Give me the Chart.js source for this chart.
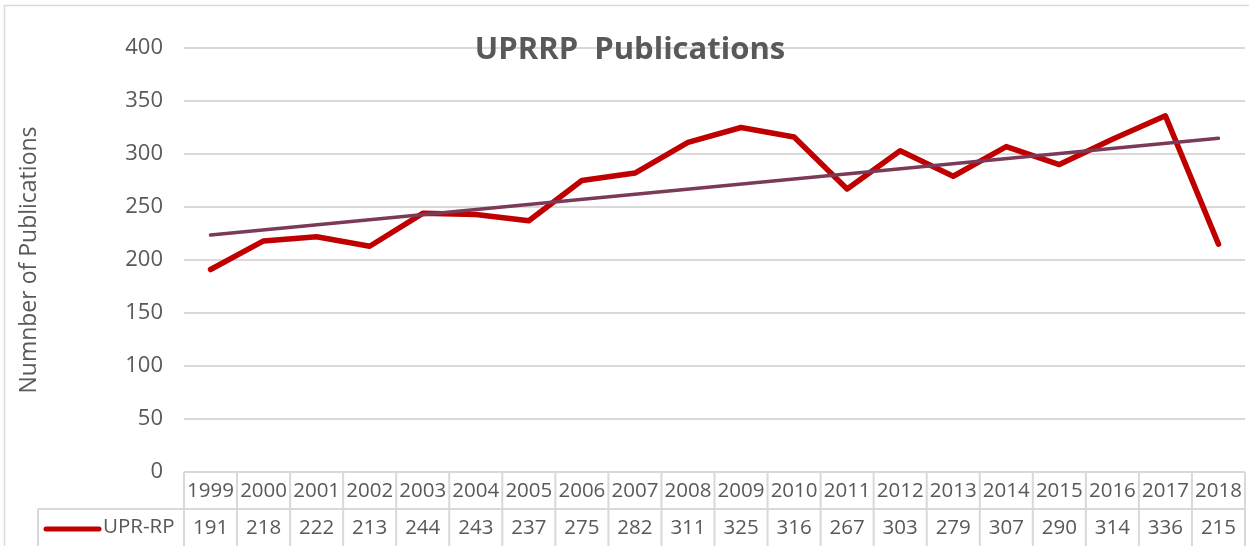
<!DOCTYPE html>
<html>
<head>
<meta charset="utf-8">
<script src="https://cdn.jsdelivr.net/npm/chart.js@4.4.1/dist/chart.umd.min.js"></script>
<style>
    html, body { margin: 0; padding: 0; background: #fff; }
    #wrap { width: 1249px; height: 546px; }
</style>
</head>
<body>
<div id="wrap"><canvas id="chart" width="1249" height="546"></canvas></div>
<script>
// Data
const years = ['1999', '2000', '2001', '2002', '2003', '2004', '2005', '2006', '2007', '2008',
               '2009', '2010', '2011', '2012', '2013', '2014', '2015', '2016', '2017', '2018'];
const publications = [191, 218, 222, 213, 244, 243, 237, 275, 282, 311,
                      325, 316, 267, 303, 279, 307, 290, 314, 336, 215];
// Linear trendline end points as drawn
const trendYears = ['1999', '2018'];
const trendValues = [223.6, 314.8];
const seriesName = 'UPR-RP';
const chartTitle = 'UPRRP  Publications';
const yTitle = 'Numnber of Publications';

const GRID = '#d9d9d9';
const TEXT = '#595959';
const FONT = "'Open Sans', 'DejaVu Sans', sans-serif";

/**
 * Excel-style data table under the plot, plus the title and frame
 */
const dataTable = {
    id: 'dataTable',
    afterDraw(chart) {
        const { ctx, chartArea, scales } = chart;
        const x = scales.x;
        const step = x.getPixelForValue(1) - x.getPixelForValue(0);
        const left = x.getPixelForValue(0) - step / 2;
        const right = x.getPixelForValue(years.length - 1) + step / 2;
        const top = chartArea.bottom;
        const mid = top + 37;
        const bottom = chart.height + 2;
        const legendLeft = 38;

        ctx.save();
        ctx.strokeStyle = GRID;
        ctx.lineWidth = 2;
        ctx.beginPath();
        ctx.moveTo(left, top); ctx.lineTo(right, top);
        ctx.moveTo(legendLeft, mid); ctx.lineTo(right, mid);
        ctx.moveTo(legendLeft, mid); ctx.lineTo(legendLeft, bottom);
        for (let i = 0; i <= years.length; i++) {
            const px = left + i * step;
            ctx.moveTo(px, top); ctx.lineTo(px, bottom);
        }
        ctx.stroke();

        ctx.fillStyle = TEXT;
        ctx.font = '20.5px ' + FONT;
        ctx.textAlign = 'center';
        ctx.textBaseline = 'middle';
        years.forEach((yr, i) => {
            const px = x.getPixelForValue(i);
            ctx.fillText(yr, px, top + 19);
            ctx.fillText(String(publications[i]), px, mid + 19);
        });

        // legend key
        ctx.strokeStyle = '#c00000';
        ctx.lineWidth = 5;
        ctx.lineCap = 'round';
        ctx.beginPath();
        ctx.moveTo(46, mid + 20); ctx.lineTo(99, mid + 20);
        ctx.stroke();
        ctx.textAlign = 'left';
        ctx.fillText(seriesName, 103, mid + 18);

        // title
        ctx.font = 'bold 31px ' + FONT;
        ctx.textAlign = 'center';
        ctx.fillText(chartTitle, 630, 50);

        // outer frame
        ctx.strokeStyle = GRID;
        ctx.lineWidth = 1.5;
        ctx.lineCap = 'butt';
        ctx.strokeRect(4.5, 5.5, chart.width + 10, chart.height + 10);
        ctx.restore();
    }
};

const chart = new Chart(document.getElementById('chart'), {
    type: 'line',
    data: {
        labels: years,
        datasets: [{
            label: seriesName,
            data: publications,
            borderColor: '#c00000',
            borderWidth: 5.5,
            borderJoinStyle: 'round',
            borderCapStyle: 'round',
            pointRadius: 0,
            tension: 0,
            order: 2
        }, {
            label: 'Trend',
            data: trendYears.map((yr, i) => ({ x: yr, y: trendValues[i] })),
            borderColor: '#7b3b58',
            borderWidth: 3.5,
            borderCapStyle: 'round',
            pointRadius: 0,
            tension: 0,
            order: 1
        }]
    },
    options: {
        responsive: false,
        animation: false,
        layout: {
            padding: { left: 16, right: 4, top: 48, bottom: 74 }
        },
        plugins: {
            legend: { display: false },
            tooltip: { enabled: false },
            title: { display: false }
        },
        scales: {
            x: {
                type: 'category',
                display: false,
                offset: true
            },
            y: {
                min: 0,
                max: 400,
                border: { display: false },
                grid: { color: GRID, lineWidth: 2, drawTicks: false },
                ticks: {
                    stepSize: 50,
                    color: TEXT,
                    padding: 21,
                    font: { size: 22, family: FONT }
                },
                title: {
                    display: true,
                    text: yTitle,
                    color: TEXT,
                    padding: 0,
                    font: { size: 23, family: FONT, lineHeight: 1.2 }
                },
                afterFit(scale) {
                    scale.width = 168;
                }
            }
        }
    },
    plugins: [dataTable]
});
</script>
</body>
</html>
